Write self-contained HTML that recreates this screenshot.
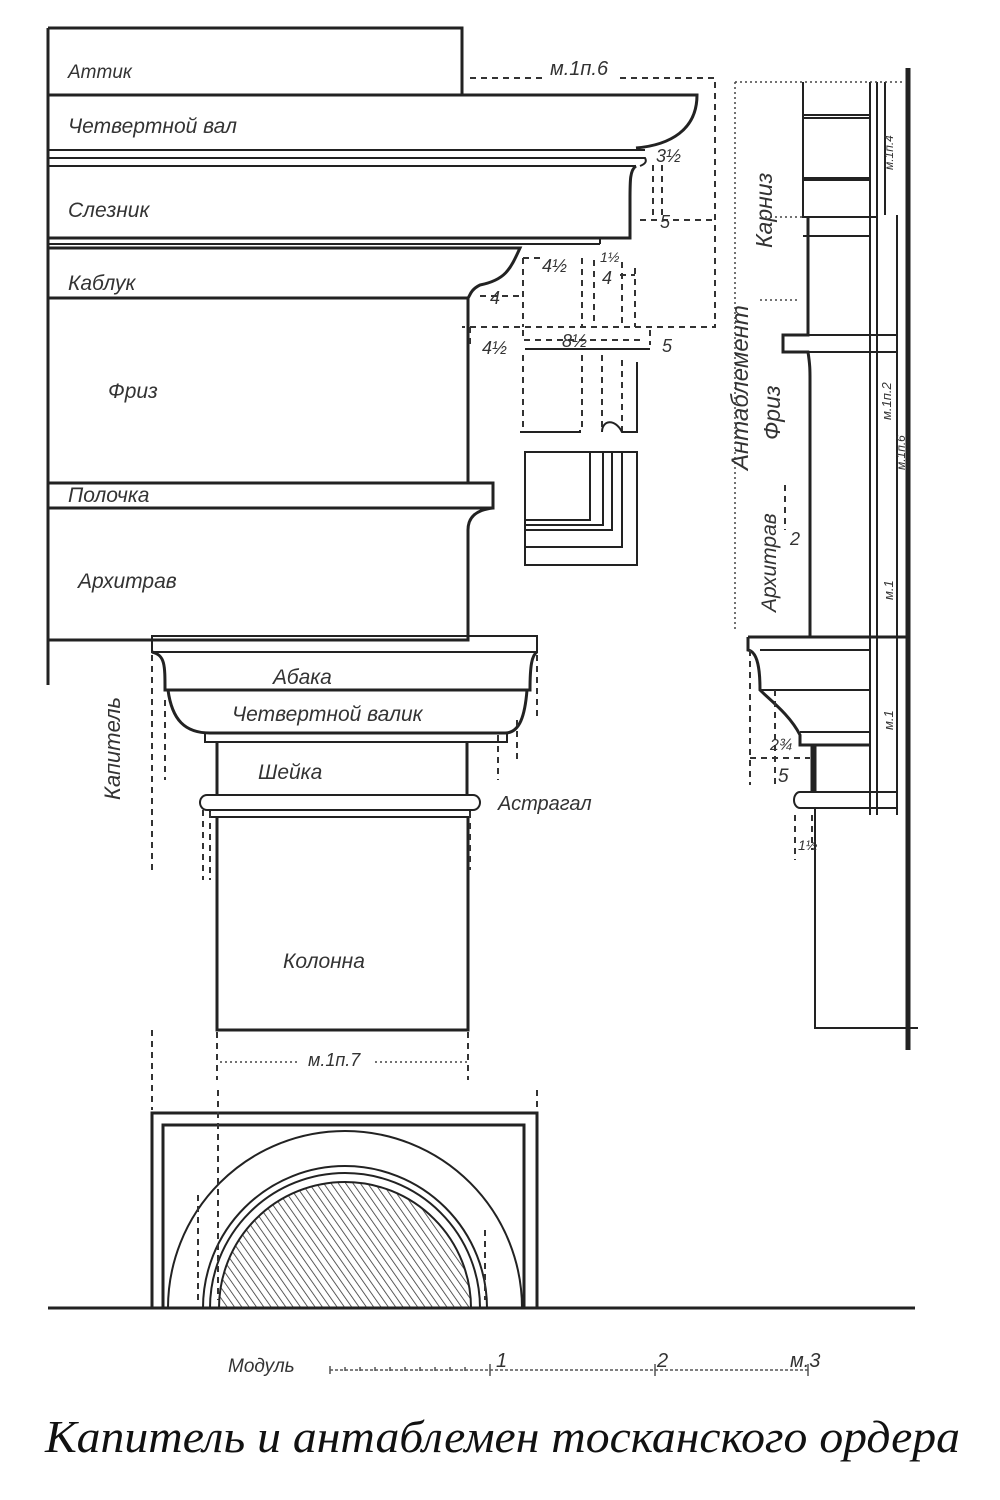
<!DOCTYPE html>
<html><head><meta charset="utf-8"><style>
html,body{margin:0;padding:0;background:#fff}
svg{display:block}
.l{fill:none;stroke:#222;stroke-width:3}
.t{fill:none;stroke:#222;stroke-width:2}
.d{fill:none;stroke:#333;stroke-width:2;stroke-dasharray:6 5}
.s{fill:none;stroke:#444;stroke-width:1.5;stroke-dasharray:2 3}
text{font-family:"Liberation Sans",sans-serif;font-style:italic;fill:#333}
text.cap{font-family:"Liberation Serif",serif;fill:#111}
</style></head><body>
<svg width="1000" height="1500" viewBox="0 0 1000 1500" xmlns="http://www.w3.org/2000/svg" font-size="21">
<defs><pattern id="h" width="6" height="6" patternUnits="userSpaceOnUse" patternTransform="rotate(-35)"><line x1="0" y1="0" x2="0" y2="6" stroke="#333" stroke-width="1.6"/></pattern></defs>
<!-- left entablature -->
<path class="l" d="M48 28 V685"/>
<path class="l" d="M48 28 H462 V95"/>
<path class="l" d="M48 95 H697 C697 130 670 145 636 148"/>
<path class="t" d="M48 150 H645 M48 158 H645 Q648 163 640 166 M48 166 H636"/>
<path class="l" d="M636 166 C630 170 630 180 630 200 V238 H48"/>
<path class="t" d="M48 244 H600 M600 238 V244"/>
<path class="l" d="M48 248 H520 C510 270 505 280 480 285 C470 290 470 296 468 298 H48"/>
<path class="l" d="M468 298 V483"/>
<path class="l" d="M48 483 H493 V508 H48"/>
<path class="l" d="M493 508 C475 510 468 518 468 530 V640 H48"/>
<!-- dims top right -->
<path class="d" d="M470 78 H545 M620 78 H715 V327 H462"/>
<path class="d" d="M653 165 V220 M662 165 V220 M640 220 H712"/>
<path class="d" d="M523 258 V327 M523 258 H540 M582 258 V327 M594 260 V327 M622 262 V327 M635 268 V327 M620 275 H635"/>
<path class="d" d="M480 296 H523 M470 327 V345 M523 330 V340 H640 M650 330 V345"/>
<path class="t" d="M525 349 H650"/>
<path class="d" d="M523 355 V432 M582 355 V432 M602 355 V432 M622 360 V432"/>
<path class="t" d="M520 432 H580 V430 M602 432 C602 420 615 418 622 432 H637 V362"/>
<path class="t" d="M525 452 H637 V565 H525 Z M525 452 H590 V520 H525 M525 525 H603 V452 M525 530 H612 V452 M525 547 H622 V452"/>
<text x="550" y="75" font-size="20">м.1п.6</text>
<text x="656" y="162" font-size="18">3½</text>
<text x="660" y="228" font-size="18">5</text>
<text x="542" y="272" font-size="18">4½</text>
<text x="600" y="262" font-size="14">1½</text>
<text x="602" y="284" font-size="18">4</text>
<text x="490" y="304" font-size="18">4</text>
<text x="482" y="354" font-size="18">4½</text>
<text x="562" y="347" font-size="18">8½</text>
<text x="662" y="352" font-size="18">5</text>
<!-- labels left -->
<text x="68" y="78" font-size="19">Аттик</text>
<text x="68" y="133">Четвертной вал</text>
<text x="68" y="217">Слезник</text>
<text x="68" y="290">Каблук</text>
<text x="108" y="398">Фриз</text>
<text x="68" y="502">Полочка</text>
<text x="78" y="588">Архитрав</text>
<text transform="translate(120,800) rotate(-90)" font-size="22">Капитель</text>
<!-- capital -->
<path class="t" d="M152 636 H537 V652 H152 Z"/>
<path class="l" d="M152 652 C165 655 165 665 165 690 H530 C530 665 532 655 537 652"/>
<path class="l" d="M168 690 C172 720 185 733 210 733 H505 C520 733 525 715 527 690"/>
<path class="t" d="M205 733 V742 H507 V733"/>
<path class="l" d="M217 742 V795 M467 742 V795"/>
<path class="t" d="M207 795 H473 A7 7.5 0 0 1 473 810 H207 A7 7.5 0 0 1 207 795 Z M210 810 V817 H470 V810"/>
<path class="l" d="M217 817 V1030 H468 V817"/>
<path class="d" d="M152 655 V870 M165 700 V780 M537 655 V720 M517 720 V760 M498 735 V780 M203 810 V880 M210 812 V880 M470 812 V870"/>
<text x="273" y="684">Абака</text>
<text x="232" y="721">Четвертной валик</text>
<text x="258" y="779">Шейка</text>
<text x="498" y="810" font-size="20">Астрагал</text>
<text x="283" y="968">Колонна</text>
<path class="d" d="M217 1032 V1080 M468 1032 V1080 M152 1030 V1110 M537 1090 V1110"/>
<path class="s" d="M220 1062 H300 M375 1062 H467"/>
<text x="308" y="1066" font-size="18">м.1п.7</text>
<!-- base plan -->
<path class="l" d="M152 1308 V1113 H537 V1308 M163 1308 V1125 H524 V1308"/>
<path class="t" d="M168 1308 A177 177 0 0 1 522 1308"/>
<path class="t" d="M203 1308 A142 142 0 0 1 487 1308 M210 1308 A135 135 0 0 1 480 1308"/>
<path d="M219 1308 A126 126 0 0 1 471 1308 Z" fill="url(#h)" stroke="#222" stroke-width="2"/>
<path class="l" d="M48 1308 H915"/>
<path class="d" d="M218 1090 V1300 M198 1195 V1300 M485 1230 V1300"/>
<!-- scale -->
<text x="228" y="1372" font-size="19">Модуль</text>
<path d="M330 1370 H810" stroke="#555" stroke-width="1.5" stroke-dasharray="3 2"/>
<path d="M330 1366 V1374 M345 1367 V1371 M360 1367 V1371 M375 1367 V1371 M390 1367 V1371 M405 1367 V1371 M420 1367 V1371 M435 1367 V1371 M450 1367 V1371 M465 1367 V1371 M490 1364 V1376 M655 1364 V1376 M808 1364 V1376" stroke="#555" stroke-width="1.5"/>
<text x="496" y="1367" font-size="20">1</text>
<text x="657" y="1367" font-size="20">2</text>
<text x="790" y="1367" font-size="20">м.3</text>
<text class="cap" x="45" y="1452" font-size="46" textLength="915" lengthAdjust="spacingAndGlyphs">Капитель и антаблемен тосканского ордера</text>
<!-- right profile -->
<path d="M908 68 V1050" stroke="#222" stroke-width="5"/>
<path class="t" d="M870 82 V815 M877 82 V815 M885 82 V215 M897 215 V815"/>
<path class="s" d="M735 82 H905 M735 82 V630 M765 217 H878 M760 300 H800"/>
<path class="t" d="M803 82 V217 H878 M803 115 H870 M803 118 H870 M803 178 H870 M803 180 H870 M803 236 H870"/>
<path class="l" d="M808 217 V335 H783 V352 H808 C810 365 810 370 810 380 V637"/>
<path class="t" d="M808 335 H897 M808 352 H897"/>
<path class="l" d="M748 637 H908 M748 637 V650 C760 652 760 680 760 690 C770 700 790 715 800 735 V745 H870 M812 745 V792 M815 745 V792"/>
<path class="t" d="M760 650 H870 M760 690 H870 M800 732 H870"/>
<path class="t" d="M800 792 A6 8 0 0 0 800 808 H897 V792 Z M815 808 V1028 H918"/>
<path class="d" d="M750 650 V785 M775 690 V785 M750 758 H810 M795 815 V860 M812 815 V850 M785 485 V530"/>
<text transform="translate(748,470) rotate(-90)" font-size="24">Антаблемент</text>
<text transform="translate(772,248) rotate(-90)" font-size="23">Карниз</text>
<text transform="translate(780,440) rotate(-90)" font-size="23">Фриз</text>
<text transform="translate(776,612) rotate(-90)" font-size="21">Архитрав</text>
<text x="790" y="545" font-size="18">2</text>
<text x="770" y="750" font-size="16">2¾</text>
<text x="778" y="782" font-size="19">5</text>
<text x="798" y="850" font-size="14">1½</text>
<text transform="translate(891,420) rotate(-90)" font-size="13">м.1п.2</text>
<text transform="translate(905,470) rotate(-90)" font-size="12">м.1п.6</text>
<text transform="translate(893,170) rotate(-90)" font-size="12">м.1п.4</text>
<text transform="translate(893,600) rotate(-90)" font-size="13">м.1</text>
<text transform="translate(893,730) rotate(-90)" font-size="13">м.1</text>
</svg>
</body></html>
